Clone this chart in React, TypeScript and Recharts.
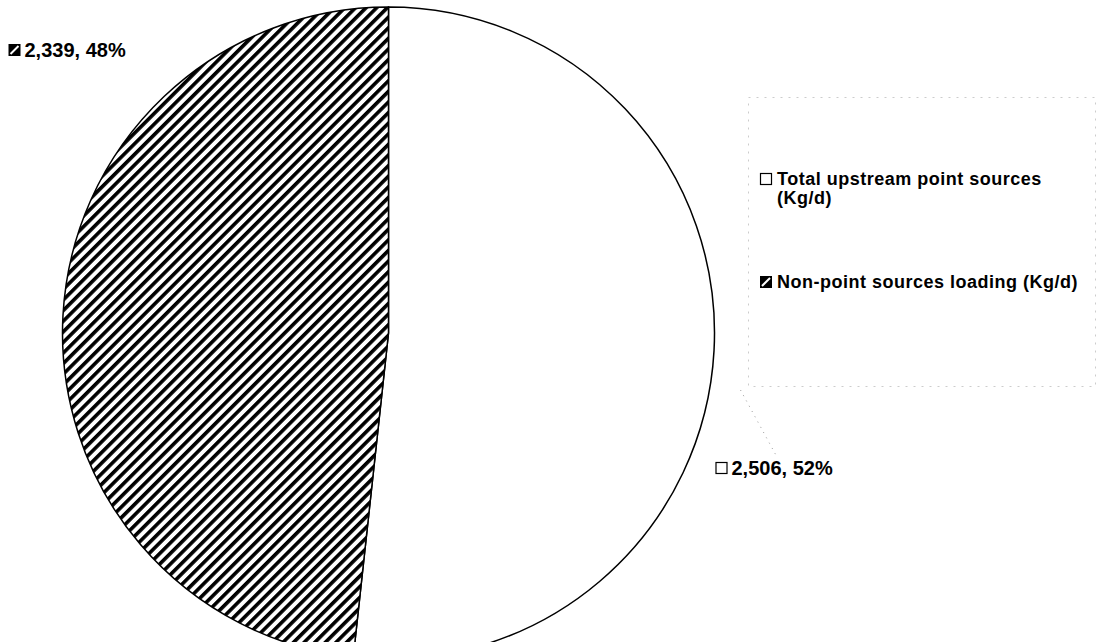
import { PieChart, Pie, Cell, Legend } from "recharts";

const categories = [
  "Total upstream point sources (Kg/d)",
  "Non-point sources loading (Kg/d)",
];
const loads = [2506, 2339];
const percentLabels = ["52%", "48%"];

const data = categories.map((name, i) => ({ name, value: loads[i] }));

const FONT = "'Liberation Sans', Arial, sans-serif";

// label anchor offsets from the pie centre (Excel-style placement)
const LABEL_OFFSETS = [
  { dx: 341, dy: 135 },
  { dx: -366, dy: -283 },
];

function SwatchIcon({ x, y, hatched }: { x: number; y: number; hatched: boolean }) {
  if (hatched) {
    return (
      <g>
        <rect x={x} y={y} width={12} height={12} fill="#000" />
        <line x1={x + 2} y1={y + 10} x2={x + 10} y2={y + 2} stroke="#fff" strokeWidth={2} />
      </g>
    );
  }
  return <rect x={x + 0.5} y={y + 0.5} width={11} height={11} fill="#fff" stroke="#000" strokeWidth={1.2} />;
}

function renderLabel(props: any) {
  const { cx, cy, index, value } = props;
  const off = LABEL_OFFSETS[index];
  const x = cx + off.dx;
  const y = cy + off.dy;
  return (
    <g>
      {index === 0 && (
        <line
          x1={x + 11}
          y1={y - 78}
          x2={x + 48}
          y2={y - 10}
          stroke="#999"
          strokeWidth={1}
          strokeDasharray="1 5"
        />
      )}
      <SwatchIcon x={x - 14} y={y - 6} hatched={index === 1} />
      <text
        x={x + 2}
        y={y}
        dominantBaseline="central"
        fontFamily={FONT}
        fontWeight="bold"
        fontSize={20}
        fill="#000"
      >
        {`${value.toLocaleString("en-US")}, ${percentLabels[index]}`}
      </text>
    </g>
  );
}

function LegendBox() {
  const textProps = {
    dominantBaseline: "central" as const,
    fontFamily: FONT,
    fontWeight: "bold",
    fontSize: 18,
    letterSpacing: 0.5,
    fill: "#000",
  };
  return (
    <svg width={350} height={292} style={{ overflow: "visible" }}>
      <rect
        x={0.5}
        y={0.5}
        width={347}
        height={289}
        fill="none"
        stroke="#ccc"
        strokeWidth={1}
        strokeDasharray="2 6"
      />
      <SwatchIcon x={12} y={76} hatched={false} />
      <text x={29} y={82} {...textProps}>
        Total upstream point sources
      </text>
      <text x={29} y={101} {...textProps}>
        (Kg/d)
      </text>
      <SwatchIcon x={12} y={179} hatched={true} />
      <text x={29} y={185} {...textProps}>
        {categories[1]}
      </text>
    </svg>
  );
}

export default function App() {
  return (
    <div style={{ position: "absolute", left: 0, top: 0, width: 1113, height: 642, background: "#fff" }}>
      <PieChart width={1113} height={642} margin={{ top: 0, right: 0, bottom: 0, left: 0 }}>
        <defs>
          <pattern
            id="diagHatch"
            patternUnits="userSpaceOnUse"
            width={7.5}
            height={7.5}
            patternTransform="rotate(45)"
          >
            <rect width={7.5} height={7.5} fill="#fff" />
            <rect width={3.6} height={7.5} fill="#000" />
          </pattern>
        </defs>
        <Pie
          data={data}
          dataKey="value"
          nameKey="name"
          cx={388.5}
          cy={333}
          outerRadius={326}
          startAngle={90}
          endAngle={-270}
          stroke="#000"
          strokeWidth={1.5}
          label={renderLabel}
          labelLine={false}
          isAnimationActive={false}
        >
          <Cell fill="#fff" />
          <Cell fill="url(#diagHatch)" />
        </Pie>
        <Legend
          content={() => <LegendBox />}
          wrapperStyle={{ position: "absolute", left: 748, top: 97, width: 350, height: 292 }}
        />
      </PieChart>
    </div>
  );
}
